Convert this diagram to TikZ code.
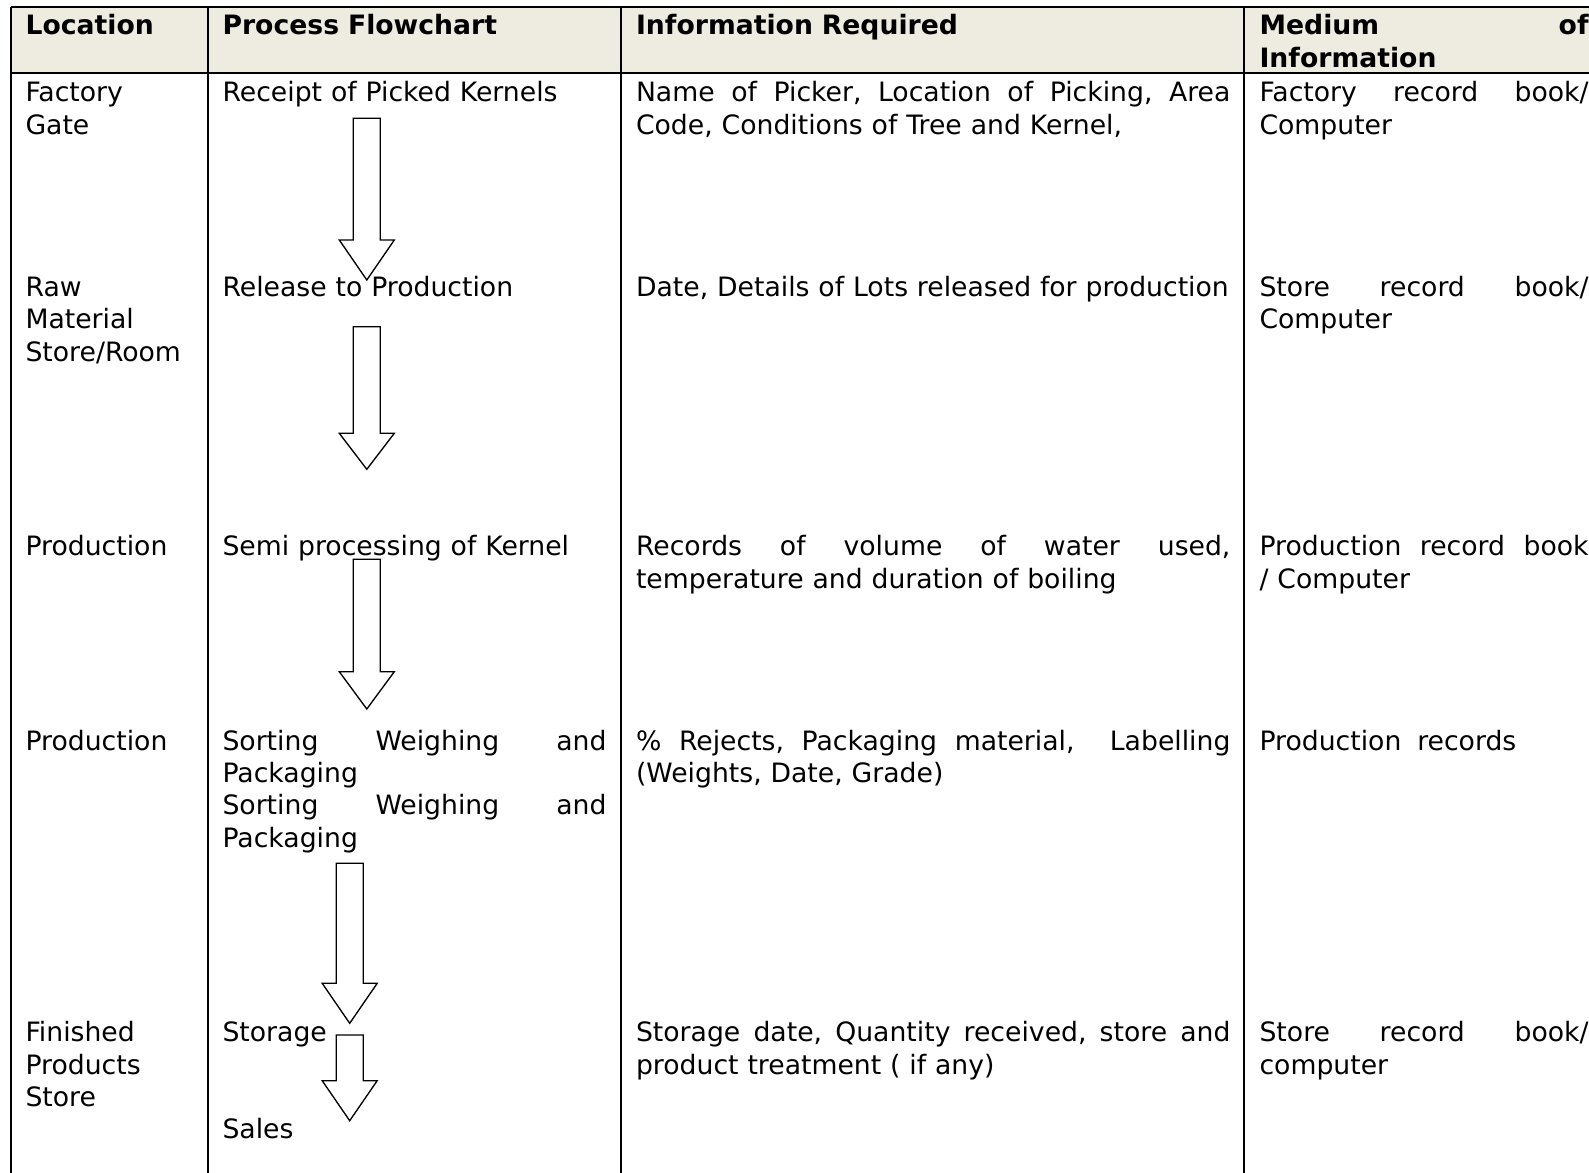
\documentclass[tikz,border=0pt]{standalone}
\usepackage{fontspec}
\setmainfont{DejaVu Sans}
\definecolor{headtan}{HTML}{EEECE1}
\newcommand\blockdown[4]{%
  \draw[blockarrow] ({#1-13.5},#2) -- ({#1+13.5},#2) -- ({#1+13.5},#3) -- ({#1+27.5},#3)
    -- (#1,#4) -- ({#1-27.5},#3) -- ({#1-13.5},#3) -- cycle;}
\begin{document}
\begin{tikzpicture}[x=0.375pt, y=-0.375pt,
    cell/.style={anchor=base west, inner sep=0pt, align=left,
      font=\fontsize{10pt}{12.15pt}\selectfont},
    head/.style={cell, font=\fontsize{10pt}{12.15pt}\selectfont\bfseries},
    colA/.style={text width=63pt},
    colB/.style={text width=144pt},
    colC/.style={text width=222.9pt},
    colD/.style={text width=123.4pt},
    rule/.style={line width=0.75pt},
    blockarrow/.style={line width=0.5pt, line join=miter}]
  \useasboundingbox (0,0) rectangle (1589,1173);

  % table frame
  \fill[headtan] (11,7) rectangle (1589,73);
  \draw[rule] (11,7) -- (1589,7);
  \draw[rule] (11,73) -- (1589,73);
  \foreach \x in {11,207.7,621.2,1244.4}
    \draw[rule] (\x,7) -- (\x,1173);

  % header
  \node (h1) [head, colA] at (25,35) {Location};
  \node (h2) [head, colB] at (222,35) {Process Flowchart};
  \node (h3) [head, colC] at (635.5,35) {Information Required};
  \node (h4) [head, colD] at (1259,35) {Medium\hfill of\\Information};

  % location
  \node (loc1) [cell, colA] at (25,102) {Factory\\Gate};
  \node (loc2) [cell, colA] at (25,296.4) {Raw\\Material\\Store/Room};
  \node (loc3) [cell, colA] at (25,555.6) {Production};
  \node (loc4) [cell, colA] at (25,750) {Production};
  \node (loc5) [cell, colA] at (25,1041.6) {Finished\\Products\\Store};

  % process flowchart
  \node (step1) [cell, colB] at (222,102) {Receipt of Picked Kernels};
  \node (step2) [cell, colB] at (222,296.4) {Release to Production};
  \node (step3) [cell, colB] at (222,555.6) {Semi processing of Kernel};
  \node (step4) [cell, colB] at (222,750)
    {Sorting\hfill Weighing\hfill and\\Packaging\\Sorting\hfill Weighing\hfill and\\Packaging};
  \node (step5) [cell, colB] at (222,1041.6) {Storage};
  \node (step6) [cell, colB] at (222,1138.8) {Sales};

  \blockdown{366.8}{118.3}{240}{280}
  \blockdown{366.8}{326.7}{433.3}{469.3}
  \blockdown{366.8}{559.3}{671.7}{709}
  \blockdown{349.7}{863.3}{983.3}{1023.3}
  \blockdown{349.7}{1035}{1080.7}{1120.7}

  % information required
  \node (info1) [cell, colC] at (635.5,102)
    {Name\hfill of\hfill Picker,\hfill Location\hfill of\hfill Picking,\hfill Area\\Code, Conditions of Tree and Kernel,};
  \node (info2) [cell, colC] at (635.5,296.4)
    {\mbox{Date, Details of Lots released for production}};
  \node (info3) [cell, colC] at (635.5,555.6)
    {Records\hfill of\hfill volume\hfill of\hfill water\hfill used,\\temperature and duration of boiling};
  \node (info4) [cell, colC] at (635.5,750)
    {\%\hfill Rejects,\hfill Packaging\hfill material,\hfill\hfill Labelling\\(Weights, Date, Grade)};
  \node (info5) [cell, colC] at (635.5,1041.6)
    {Storage\hfill date,\hfill Quantity\hfill received,\hfill store\hfill and\\product treatment ( if any)};

  % medium of information
  \node (med1) [cell, colD] at (1259,102) {Factory\hfill record\hfill book/\\Computer};
  \node (med2) [cell, colD] at (1259,296.4) {Store\hfill record\hfill book/\\Computer};
  \node (med3) [cell, colD] at (1259,555.6) {Production\hfill record\hfill book\\/ Computer};
  \node (med4) [cell, colD] at (1259,750) {Production\hspace{2.6pt} records};
  \node (med5) [cell, colD] at (1259,1041.6) {Store\hfill record\hfill book/\\computer};
\end{tikzpicture}
\end{document}
